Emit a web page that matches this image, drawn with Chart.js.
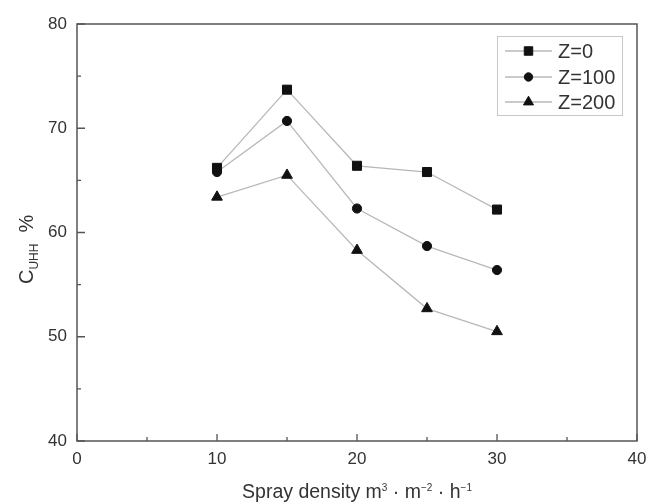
<!DOCTYPE html>
<html>
<head>
<meta charset="utf-8">
<script src="https://cdn.jsdelivr.net/npm/chart.js@4.4.1/dist/chart.umd.min.js"></script>
<style>
    html, body { margin: 0; padding: 0; background: #fff; }
    #wrap { width: 648px; height: 502px; position: relative; }
</style>
</head>
<body>
<div id="wrap"><canvas id="chart"></canvas></div>
<script>
const sprayDensity = [10, 15, 20, 25, 30];
const seriesLabels = ['Z=0', 'Z=100', 'Z=200'];
const z0 = [66.2, 73.7, 66.4, 65.8, 62.2];
const z100 = [65.8, 70.7, 62.3, 58.7, 56.4];
const z200 = [63.4, 65.5, 58.3, 52.7, 50.5];
const xTicks = [0, 10, 20, 30, 40];
const yTicks = [40, 50, 60, 70, 80];

const FONT = '"Liberation Sans", Arial, sans-serif';
const TEXT = '#333';
const AXIS = '#555';
const LINE = '#b8b8b8';
const MARK = '#111';

const markers = [
    { style: 'rect', radius: 6.4 },
    { style: 'circle', radius: 4.6 },
    { style: 'triangle', radius: 6.2 }
];

function makeSet(label, values, i) {
    return {
        label: label,
        data: sprayDensity.map((x, k) => ({ x: x, y: values[k] })),
        borderColor: LINE,
        borderWidth: 1.3,
        pointStyle: markers[i].style,
        pointRadius: markers[i].radius,
        pointHoverRadius: markers[i].radius,
        pointBackgroundColor: MARK,
        pointBorderColor: MARK,
        pointBorderWidth: 1,
        tension: 0
    };
}

// draws a row of text pieces, some raised or lowered (sub/superscripts)
function drawRuns(ctx, runs, x, y) {
    let cx = x;
    runs.forEach(r => {
        ctx.font = r.size + 'px ' + FONT;
        ctx.fillText(r.text, cx, y + (r.dy || 0));
        cx += ctx.measureText(r.text).width;
    });
    return cx - x;
}

function runsWidth(ctx, runs) {
    let w = 0;
    runs.forEach(r => {
        ctx.font = r.size + 'px ' + FONT;
        w += ctx.measureText(r.text).width;
    });
    return w;
}

const decorPlugin = {
    id: 'decor',
    afterDatasetsDraw(chart) {
        const ctx = chart.ctx;
        const a = chart.chartArea;
        const xs = chart.scales.x;
        const ys = chart.scales.y;

        ctx.save();
        ctx.strokeStyle = AXIS;
        ctx.lineWidth = 1.5;
        ctx.strokeRect(a.left, a.top, a.right - a.left, a.bottom - a.top);

        // inward ticks, bottom and left only
        ctx.lineWidth = 1.3;
        ctx.beginPath();
        for (let v = 0; v <= 40; v += 5) {
            const px = xs.getPixelForValue(v);
            const len = v % 10 === 0 ? 7 : 4;
            ctx.moveTo(px, a.bottom);
            ctx.lineTo(px, a.bottom - len);
        }
        for (let v = 40; v <= 80; v += 5) {
            const py = ys.getPixelForValue(v);
            const len = v % 10 === 0 ? 8 : 4;
            ctx.moveTo(a.left, py);
            ctx.lineTo(a.left + len, py);
        }
        ctx.stroke();

        // x title
        ctx.fillStyle = TEXT;
        ctx.textBaseline = 'alphabetic';
        ctx.textAlign = 'left';
        const xRuns = [
            { text: 'Spray density m', size: 19.5 },
            { text: '3', size: 10, dy: -7 },
            { text: ' \u00b7 m', size: 19.5 },
            { text: '\u22122', size: 10, dy: -7 },
            { text: ' \u00b7 h', size: 19.5 },
            { text: '\u22121', size: 10, dy: -7 }
        ];
        const xw = runsWidth(ctx, xRuns);
        drawRuns(ctx, xRuns, (a.left + a.right) / 2 - xw / 2, 498);

        // y title, rotated
        ctx.translate(33, 284);
        ctx.rotate(-Math.PI / 2);
        drawRuns(ctx, [
            { text: 'C', size: 20 },
            { text: 'UHH', size: 12, dy: 5 },
            { text: '  %', size: 20 }
        ], 0, 0);
        ctx.restore();

        // legend
        ctx.save();
        ctx.strokeStyle = '#c8c8c8';
        ctx.lineWidth = 1;
        ctx.strokeRect(497.5, 36.5, 125, 79);
        const rows = [51, 77, 102];
        chart.data.datasets.forEach((ds, i) => {
            const y = rows[i];
            ctx.strokeStyle = LINE;
            ctx.lineWidth = 1.3;
            ctx.beginPath();
            ctx.moveTo(505, y);
            ctx.lineTo(552, y);
            ctx.stroke();
            ctx.fillStyle = MARK;
            ctx.strokeStyle = MARK;
            ctx.lineWidth = 1;
            Chart.helpers.drawPoint(ctx, {
                pointStyle: markers[i].style,
                radius: markers[i].radius - 0.4,
                rotation: 0,
                borderWidth: 1
            }, 528.5, y);
            ctx.fillStyle = TEXT;
            ctx.font = '20px ' + FONT;
            ctx.textBaseline = 'middle';
            ctx.textAlign = 'left';
            ctx.fillText(ds.label, 558, y + 1);
        });
        ctx.restore();
    }
};

const tickFont = { family: FONT, size: 17 };

new Chart(document.getElementById('chart'), {
    type: 'line',
    data: {
        datasets: [
            makeSet(seriesLabels[0], z0, 0),
            makeSet(seriesLabels[1], z100, 1),
            makeSet(seriesLabels[2], z200, 2)
        ]
    },
    options: {
        responsive: true,
        maintainAspectRatio: false,
        animation: false,
        layout: { padding: { top: 24, right: 11, left: 0, bottom: 0 } },
        plugins: {
            legend: { display: false },
            tooltip: { enabled: false }
        },
        scales: {
            x: {
                type: 'linear',
                min: 0, max: 40,
                afterFit: s => { s.height = 61; s.paddingLeft = 0; s.paddingRight = 0; },
                afterBuildTicks: s => { s.ticks = xTicks.map(v => ({ value: v })); },
                grid: { display: false, drawTicks: false },
                border: { display: false },
                ticks: { font: tickFont, color: TEXT, padding: 8, maxRotation: 0 }
            },
            y: {
                type: 'linear',
                min: 40, max: 80,
                afterFit: s => { s.width = 77; s.paddingTop = 0; s.paddingBottom = 0; },
                afterBuildTicks: s => { s.ticks = yTicks.map(v => ({ value: v })); },
                grid: { display: false, drawTicks: false },
                border: { display: false },
                ticks: { font: tickFont, color: TEXT, padding: 10 }
            }
        }
    },
    plugins: [decorPlugin]
});
</script>
</body>
</html>
